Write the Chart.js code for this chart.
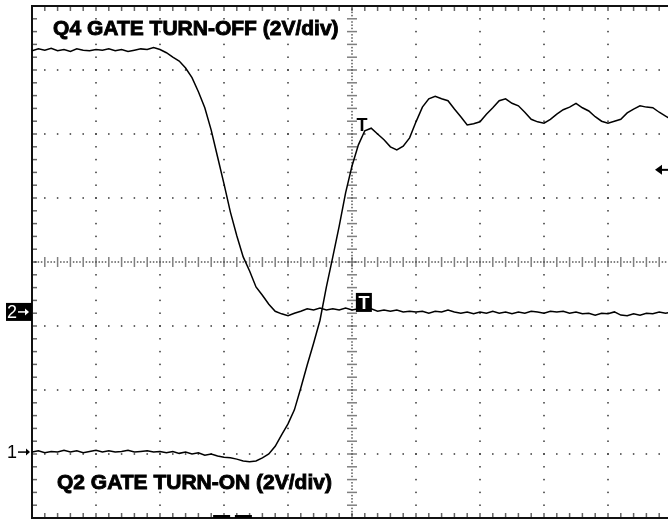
<!DOCTYPE html>
<html>
<head>
<meta charset="utf-8">
<title>Gate turn-off / turn-on</title>
<script src="https://cdn.jsdelivr.net/npm/chart.js@4.4.1/dist/chart.umd.min.js"></script>
<style>
  html, body { margin: 0; padding: 0; background: #fff; overflow: hidden; }
  #wrap { width: 680px; height: 519px; }
</style>
</head>
<body>
<div id="wrap"><canvas id="scope" width="680" height="519"></canvas></div>
<script>
// time axis in divisions, one sample every 0.1 div
const timeDiv = [0.0,0.1,0.2,0.3,0.4,0.5,0.6,0.7,0.8,0.9,
  1.0,1.1,1.2,1.3,1.4,1.5,1.6,1.7,1.8,1.9,
  2.0,2.1,2.2,2.3,2.4,2.5,2.6,2.7,2.8,2.9,
  3.0,3.1,3.2,3.3,3.4,3.5,3.6,3.7,3.8,3.9,
  4.0,4.1,4.2,4.3,4.4,4.5,4.6,4.7,4.8,4.9,
  5.0,5.1,5.2,5.3,5.4,5.5,5.6,5.7,5.8,5.9,
  6.0,6.1,6.2,6.3,6.4,6.5,6.6,6.7,6.8,6.9,
  7.0,7.1,7.2,7.3,7.4,7.5,7.6,7.7,7.8,7.9,
  8.0,8.1,8.2,8.3,8.4,8.5,8.6,8.7,8.8,8.9,
  9.0,9.1,9.2,9.3,9.4,9.5,9.6,9.7,9.8,9.9,10.0];

// Q4 gate turn-off, screen divisions (2V/div)
const q4GateDiv = [3.30,3.33,3.31,3.34,3.30,3.32,3.29,3.33,3.31,3.30,
  3.32,3.31,3.33,3.30,3.32,3.29,3.31,3.33,3.32,3.35,
  3.32,3.27,3.20,3.14,3.03,2.88,2.66,2.41,2.06,1.64,
  1.22,0.78,0.41,0.08,-0.14,-0.39,-0.52,-0.66,-0.77,-0.81,
  -0.84,-0.80,-0.77,-0.73,-0.75,-0.72,-0.75,-0.73,-0.75,-0.72,
  -0.75,-0.73,-0.75,-0.73,-0.77,-0.75,-0.77,-0.75,-0.78,-0.77,
  -0.78,-0.77,-0.80,-0.77,-0.78,-0.75,-0.78,-0.80,-0.78,-0.81,
  -0.78,-0.80,-0.77,-0.80,-0.78,-0.81,-0.78,-0.80,-0.77,-0.78,
  -0.80,-0.77,-0.78,-0.77,-0.80,-0.78,-0.81,-0.80,-0.83,-0.80,
  -0.81,-0.78,-0.83,-0.84,-0.81,-0.83,-0.80,-0.81,-0.78,-0.80,-0.78];

// Q2 gate turn-on, screen divisions (2V/div)
const q2GateDiv = [-2.97,-2.95,-2.98,-2.96,-2.97,-2.94,-2.97,-2.95,-2.98,-2.96,
  -2.94,-2.97,-2.95,-2.97,-2.96,-2.94,-2.97,-2.96,-2.95,-2.97,
  -2.96,-2.98,-2.96,-2.99,-2.97,-3.00,-2.98,-3.02,-3.00,-3.03,
  -3.05,-3.06,-3.08,-3.11,-3.12,-3.11,-3.06,-3.00,-2.88,-2.70,
  -2.53,-2.31,-1.97,-1.61,-1.27,-0.91,-0.39,0.08,0.56,1.08,
  1.50,1.83,2.05,2.09,2.00,1.91,1.80,1.75,1.81,1.94,
  2.19,2.42,2.55,2.59,2.55,2.52,2.39,2.27,2.14,2.16,
  2.19,2.31,2.41,2.52,2.55,2.48,2.44,2.34,2.23,2.19,
  2.17,2.23,2.31,2.38,2.42,2.48,2.41,2.36,2.27,2.20,
  2.17,2.20,2.23,2.33,2.39,2.44,2.42,2.41,2.34,2.28,2.22];

// marker levels (divisions)
const ch1Ground = -2.97;
const ch2Ground = -0.78;
const trigLevel = 1.44;
const trigTime = 5.17;

const labelTop = 'Q4 GATE TURN-OFF (2V/div)';
const labelBottom = 'Q2 GATE TURN-ON (2V/div)';

function toPoints(ys) {
  return ys.map((y, i) => ({ x: timeDiv[i], y: y }));
}

// oscilloscope graticule: dotted major lines, centre cross, border ticks
const graticule = {
  id: 'graticule',
  beforeDatasetsDraw(chart) {
    const ctx = chart.ctx;
    const xs = chart.scales.x, ys = chart.scales.y;
    const a = chart.chartArea;
    ctx.save();
    ctx.fillStyle = '#333';
    const dot = (x, y) => ctx.fillRect(x - 0.75, y - 0.75, 1.5, 1.5);

    for (let gx = 1; gx < 10; gx++) {
      if (gx === 5) continue;
      const px = xs.getPixelForValue(gx);
      for (let v = -4; v <= 4.001; v += 0.2) dot(px, ys.getPixelForValue(v));
    }
    for (let gy = -3; gy <= 3; gy++) {
      if (gy === 0) continue;
      const py = ys.getPixelForValue(gy);
      for (let v = 0; v <= 10.001; v += 0.2) dot(xs.getPixelForValue(v), py);
    }

    // centre cross
    ctx.fillStyle = '#555';
    const cx = xs.getPixelForValue(5), cy = ys.getPixelForValue(0);
    for (let v = -4; v <= 4.001; v += 0.05) dot(cx, ys.getPixelForValue(v));
    for (let v = 0; v <= 10.001; v += 0.05) dot(xs.getPixelForValue(v), cy);
    for (let v = -4; v <= 4.001; v += 0.2) {
      const py = ys.getPixelForValue(v);
      [-4, -2, 2, 4].forEach(d => dot(cx + d, py));
    }
    for (let v = 0; v <= 10.001; v += 0.2) {
      const px = xs.getPixelForValue(v);
      [-4, -2, 2, 4].forEach(d => dot(px, cy + d));
    }

    // border ticks
    ctx.fillStyle = '#333';
    for (let v = 0; v <= 10.001; v += 0.2) {
      const px = xs.getPixelForValue(v);
      dot(px, a.top + 2); dot(px, a.top + 4);
      dot(px, a.bottom - 2); dot(px, a.bottom - 4);
    }
    for (let v = -4; v <= 4.001; v += 0.2) {
      const py = ys.getPixelForValue(v);
      dot(a.left + 2, py); dot(a.left + 4, py);
    }

    // frame
    ctx.strokeStyle = '#111';
    ctx.lineWidth = 2;
    ctx.beginPath();
    ctx.moveTo(a.right, a.top);
    ctx.lineTo(a.left, a.top);
    ctx.lineTo(a.left, a.bottom);
    ctx.lineTo(a.right, a.bottom);
    ctx.stroke();
    ctx.restore();
  },
  afterDatasetsDraw(chart) {
    const ctx = chart.ctx;
    const xs = chart.scales.x, ys = chart.scales.y;
    const a = chart.chartArea;
    ctx.save();

    // captions (heavy bold like the scope print)
    ctx.fillStyle = '#000';
    ctx.strokeStyle = '#000';
    ctx.lineWidth = 0.9;
    ctx.font = 'bold 21px "Liberation Sans", Arial, sans-serif';
    ctx.textBaseline = 'alphabetic';
    ctx.textAlign = 'left';
    const cap = (t, x, y) => { ctx.fillText(t, x, y); ctx.strokeText(t, x, y); };
    cap(labelTop, xs.getPixelForValue(0.33), ys.getPixelForValue(3.55));
    cap(labelBottom, xs.getPixelForValue(0.39), ys.getPixelForValue(-3.55));

    const arrowRight = (x0, x1, y, col) => {
      ctx.strokeStyle = col; ctx.fillStyle = col; ctx.lineWidth = 1.5;
      ctx.beginPath(); ctx.moveTo(x0, y); ctx.lineTo(x1 - 3, y); ctx.stroke();
      ctx.beginPath(); ctx.moveTo(x1, y); ctx.lineTo(x1 - 4, y - 3.5); ctx.lineTo(x1 - 4, y + 3.5); ctx.closePath(); ctx.fill();
    };

    // channel 2 ground marker (boxed)
    const y2 = ys.getPixelForValue(ch2Ground);
    ctx.fillStyle = '#000';
    ctx.fillRect(6, y2 - 9, a.left - 6, 18);
    ctx.fillStyle = '#fff';
    ctx.font = '18px "Liberation Sans", Arial, sans-serif';
    ctx.textBaseline = 'middle';
    ctx.fillText('2', 7, y2 + 1);
    arrowRight(18, 29, y2, '#fff');

    // channel 1 ground marker
    const y1 = ys.getPixelForValue(ch1Ground);
    ctx.fillStyle = '#000';
    ctx.fillText('1', 7, y1 + 1);
    arrowRight(18, 30, y1, '#000');

    // trigger marks
    const tx = xs.getPixelForValue(trigTime);
    ctx.font = 'bold 18px "Liberation Sans", Arial, sans-serif';
    ctx.textAlign = 'center';
    ctx.textBaseline = 'top';
    ctx.fillStyle = '#000';
    ctx.fillText('T', tx - 1, ys.getPixelForValue(2.27));
    const by = ys.getPixelForValue(ch2Ground) - 19;
    ctx.fillRect(tx - 7, by, 16, 19);
    ctx.fillStyle = '#fff';
    ctx.fillText('T', tx + 1, by + 2);

    // trigger level arrow at right edge
    const ty = ys.getPixelForValue(trigLevel);
    ctx.strokeStyle = '#000'; ctx.fillStyle = '#000'; ctx.lineWidth = 2;
    ctx.beginPath(); ctx.moveTo(668, ty); ctx.lineTo(660, ty); ctx.stroke();
    ctx.beginPath(); ctx.moveTo(655, ty); ctx.lineTo(662, ty - 5); ctx.lineTo(662, ty + 5); ctx.closePath(); ctx.fill();

    // time markers on bottom edge
    ctx.fillRect(xs.getPixelForValue(2.83), a.bottom - 3, 17, 3);
    ctx.fillRect(xs.getPixelForValue(3.17), a.bottom - 3, 17, 3);
    ctx.restore();
  }
};

new Chart(document.getElementById('scope'), {
  type: 'line',
  data: {
    datasets: [
      { label: 'Q4 gate turn-off', data: toPoints(q4GateDiv), borderColor: '#000', borderWidth: 1.5, pointRadius: 0, tension: 0 },
      { label: 'Q2 gate turn-on', data: toPoints(q2GateDiv), borderColor: '#000', borderWidth: 1.5, pointRadius: 0, tension: 0 }
    ]
  },
  options: {
    responsive: false,
    animation: false,
    devicePixelRatio: 1,
    layout: { padding: { left: 32, top: 6, right: 8, bottom: 1 } },
    plugins: { legend: { display: false }, tooltip: { enabled: false } },
    scales: {
      x: { type: 'linear', min: 0, max: 10, display: false },
      y: { type: 'linear', min: -4, max: 4, display: false }
    }
  },
  plugins: [graticule]
});
</script>
</body>
</html>
